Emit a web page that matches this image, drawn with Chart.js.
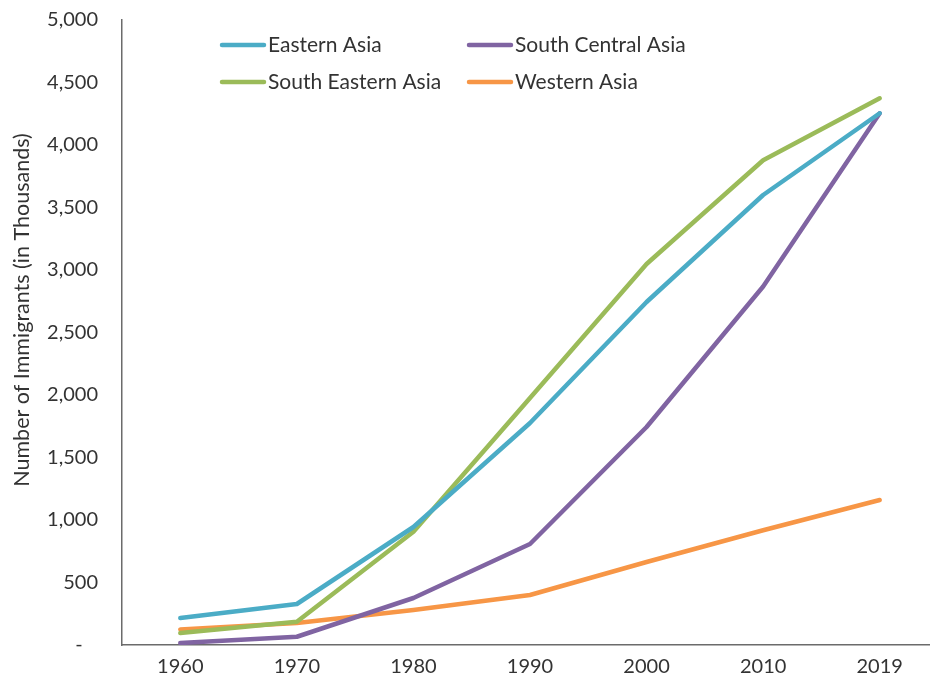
<!DOCTYPE html>
<html>
<head>
<meta charset="utf-8">
<script src="https://cdn.jsdelivr.net/npm/chart.js@4/dist/chart.umd.min.js"></script>
<style>
  html, body { margin: 0; padding: 0; background: #fff; overflow: hidden; }
  #wrap { width: 940px; height: 683px; }
</style>
</head>
<body>
<div id="wrap"><canvas id="chart" width="940" height="683"></canvas></div>
<script>
// data (thousands)
const years = ["1960", "1970", "1980", "1990", "2000", "2010", "2019"];
const easternAsia = [216, 328, 944, 1776, 2744, 3600, 4254];
const southCentralAsia = [16, 66, 376, 808, 1744, 2868, 4254];
const southEasternAsia = [96, 186, 906, 1976, 3048, 3878, 4374];
const westernAsia = [125, 176, 280, 400, 664, 918, 1160];
const yTicks = [0, 500, 1000, 1500, 2000, 2500, 3000, 3500, 4000, 4500, 5000];

const textColor = "#333333";
const axisColor = "#6b6b6b";
const fontFamily = "Lato, 'Open Sans', sans-serif";

function line(label, data, color) {
    return {
        label: label,
        data: data,
        borderColor: color,
        backgroundColor: color,
        borderWidth: 4.5,
        pointRadius: 0,
        tension: 0,
        borderCapStyle: "round",
        borderJoinStyle: "round"
    };
}

// legend as two columns, plus y title placed like the original
const extras = {
    id: "extras",
    afterDraw(chart) {
        const ctx = chart.ctx;
        const ds = chart.data.datasets;
        const spots = [[222, 45], [469, 45], [222, 82], [469, 82]];
        ctx.save();
        ctx.font = "21px " + fontFamily;
        ctx.textBaseline = "middle";
        ctx.textAlign = "left";
        ds.forEach((d, i) => {
            const [x, y] = spots[i];
            ctx.strokeStyle = d.borderColor;
            ctx.lineWidth = 4.5;
            ctx.lineCap = "round";
            ctx.beginPath();
            ctx.moveTo(x, y);
            ctx.lineTo(x + 42, y);
            ctx.stroke();
            ctx.fillStyle = textColor;
            ctx.fillText(d.label, x + 46, y);
        });
        ctx.translate(22, 310);
        ctx.rotate(-Math.PI / 2);
        ctx.textAlign = "center";
        ctx.font = "21.5px " + fontFamily;
        ctx.fillText("Number of Immigrants (in Thousands)", 0, 0);
        ctx.restore();
    }
};

const chart = new Chart(document.getElementById("chart"), {
    type: "line",
    data: {
        labels: years,
        datasets: [
            line("Eastern Asia", easternAsia, "#4BACC6"),
            line("South Central Asia", southCentralAsia, "#8064A2"),
            line("South Eastern Asia", southEasternAsia, "#9BBB59"),
            line("Western Asia", westernAsia, "#F79646")
        ]
    },
    options: {
        responsive: false,
        animation: false,
        layout: { padding: { top: 20, right: 2, bottom: 0, left: 0 } },
        plugins: {
            legend: { display: false },
            tooltip: { enabled: false }
        },
        scales: {
            x: {
                offset: true,
                grid: { display: false, drawTicks: false },
                border: { color: axisColor, width: 1.5 },
                ticks: { color: textColor, font: { family: fontFamily, size: 20 }, padding: 10 },
                afterFit(scale) { scale.height = 38; }
            },
            y: {
                min: 0,
                max: 5000,
                afterBuildTicks(scale) { scale.ticks = yTicks.map(v => ({ value: v })); },
                // invisible tick marks give the gap between labels and axis
                grid: { drawOnChartArea: false, drawTicks: true, tickLength: 24, color: "rgba(0,0,0,0)" },
                border: { color: axisColor, width: 1.5 },
                ticks: {
                    color: textColor,
                    font: { family: fontFamily, size: 20 },
                    padding: 0,
                    callback: v => v === 0 ? "-   " : v.toLocaleString("en-US")
                },
                afterFit(scale) { scale.width = 122; }
            }
        }
    },
    plugins: [extras]
});
</script>
</body>
</html>
